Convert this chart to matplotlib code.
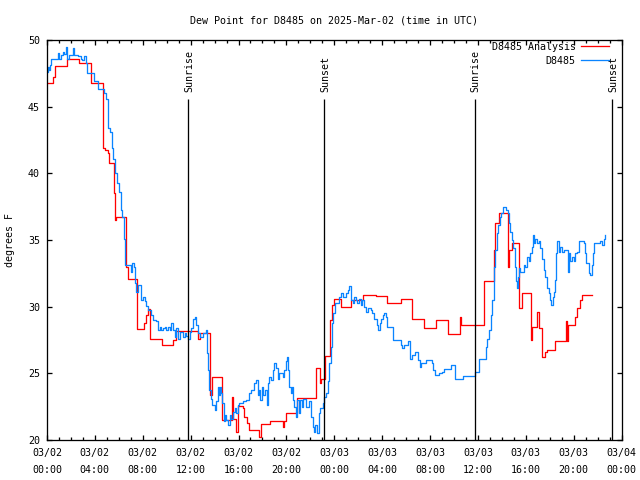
import matplotlib
matplotlib.use("Agg")
import matplotlib.pyplot as plt
from matplotlib.ticker import MultipleLocator, FixedLocator
from datetime import datetime, timedelta

# ------------------------- data -------------------------
# hours since 2025-03-02 00:00 UTC
analysis_hours = [0, 0.53, 0.67, 1.64, 2.67, 3.64, 4.64, 4.83, 5.06, 5.17, 5.61, 5.72, 5.8,
                  6.58, 6.78, 7.56, 8.11, 8.31, 8.44, 8.64, 9.64, 10.53, 10.75, 12.61, 12.75,
                  13.6, 13.75, 14.64, 15.47, 15.58, 15.75, 15.94, 16.36, 16.5, 16.69, 16.86,
                  17.75, 17.86, 18.67, 19.7, 19.78, 20.0, 20.9, 22.47, 22.8, 22.89, 23.25,
                  23.64, 23.8, 23.94, 24.56, 25.39, 26.44, 27.53, 28.44, 29.56, 30.47, 31.5,
                  32.47, 33.5, 34.5, 34.58, 36.47, 37.33, 37.47, 37.75, 38.53, 38.58, 38.86,
                  39.47, 39.69, 40.47, 40.53, 40.95, 41.1, 41.36, 41.58, 41.78, 42.42, 43.36,
                  43.42, 43.53, 44.14, 44.28, 44.56, 44.69, 45.53]
analysis_dewpt = [46.8, 47.2, 48.05, 48.55, 48.3, 46.8, 41.9, 41.75, 41.5, 40.75, 38.5, 36.5, 36.7,
                  33.0, 32.1, 28.3, 28.75, 29.4, 29.8, 27.6, 27.1, 27.5, 28.2, 27.6, 28.0,
                  23.4, 24.7, 21.5, 23.2, 21.6, 20.6, 22.55, 22.4, 21.7, 21.25, 20.75,
                  20.2, 21.2, 21.4, 20.95, 21.45, 22.05, 23.15, 25.4, 24.3, 24.6, 26.3,
                  29.0, 30.1, 30.6, 30.0, 30.5, 30.9, 30.8, 30.25, 30.55, 29.1, 28.4,
                  29.0, 27.95, 29.2, 28.6, 31.9, 34.25, 36.25, 37.0, 33.0, 34.25, 34.75,
                  29.9, 31.0, 27.5, 28.5, 29.6, 28.4, 26.25, 26.6, 26.75, 27.4, 28.9,
                  27.4, 28.6, 29.25, 29.9, 30.5, 30.9, 30.9]

station_hours = [0.0, 0.06, 0.17, 0.25, 0.33, 0.89, 1.0, 1.17, 1.31, 1.44, 1.56, 1.69, 1.83, 2.19,
                 2.28, 2.61, 2.8, 2.94, 3.08, 3.22, 3.36, 3.92, 4.28, 4.78, 4.92, 5.06, 5.11,
                 5.25, 5.39, 5.53, 5.67, 5.89, 6.0, 6.17, 6.28, 6.42, 6.5, 7.06, 7.14, 7.25,
                 7.36, 7.47, 7.61, 7.89, 8.03, 8.17, 8.31, 8.44, 8.72, 8.86, 9.08, 9.28, 9.42,
                 9.56, 9.69, 9.83, 9.97, 10.11, 10.25, 10.39, 10.53, 10.67, 10.81, 10.94, 11.08,
                 11.36, 11.5, 11.64, 11.78, 11.92, 12.06, 12.19, 12.33, 12.47, 12.61, 12.75,
                 13.03, 13.31, 13.36, 13.44, 13.53, 13.72, 13.81, 14.0, 14.14, 14.28, 14.36,
                 14.47, 14.56, 14.64, 14.75, 14.89, 14.97, 15.11, 15.25, 15.39, 15.53, 15.67,
                 15.81, 15.94, 16.08, 16.36, 16.64, 16.86, 17.06, 17.33, 17.47, 17.61, 17.75,
                 17.83, 17.97, 18.08, 18.22, 18.36, 18.5, 18.58, 18.72, 18.86, 19.0, 19.14,
                 19.28, 19.42, 19.69, 19.83, 19.97, 20.06, 20.14, 20.25, 20.39, 20.47, 20.58,
                 20.67, 20.81, 20.89, 21.03, 21.14, 21.31, 21.42, 21.64, 21.86, 22.06, 22.19,
                 22.28, 22.42, 22.53, 22.69, 22.83, 23.03, 23.17, 23.31, 23.44, 23.58, 23.72,
                 23.81, 23.92, 24.06, 24.42, 24.56, 24.69, 24.97, 25.11, 25.25, 25.39, 25.53,
                 25.67, 25.81, 25.94, 26.08, 26.22, 26.36, 26.5, 26.64, 26.78, 27.06, 27.19,
                 27.33, 27.61, 27.69, 27.81, 27.94, 28.08, 28.17, 28.31, 28.39, 28.92, 29.56,
                 29.69, 29.83, 30.17, 30.33, 30.47, 30.75, 31.03, 31.14, 31.22, 31.64, 32.19,
                 32.28, 32.42, 32.75, 33.03, 33.17, 33.72, 34.08, 34.75, 35.75, 36.08, 36.64,
                 36.78, 36.92, 37.06, 37.19, 37.33, 37.47, 37.61, 37.69, 37.81, 37.97, 38.11,
                 38.39, 38.53, 38.64, 38.72, 38.81, 38.92, 39.08, 39.19, 39.28, 39.36, 39.42,
                 39.56, 39.83, 39.97, 40.11, 40.25, 40.39, 40.53, 40.61, 40.72, 40.81, 40.94,
                 41.08, 41.22, 41.36, 41.5, 41.64, 41.78, 41.92, 42.06, 42.14, 42.25, 42.33,
                 42.42, 42.53, 42.61, 42.75, 42.89, 43.03, 43.17, 43.44, 43.53, 43.64, 43.72,
                 43.86, 44.0, 44.14, 44.28, 44.42, 44.83, 44.97, 45.03, 45.25, 45.39, 45.53,
                 45.61, 45.69, 46.22, 46.36, 46.5, 46.64]
station_dewpt = [47.6, 48.0, 47.75, 48.1, 48.6, 49.0, 48.55, 48.9, 49.1, 48.95, 49.45, 48.6, 48.9, 49.4,
                 48.9, 48.8, 48.6, 48.5, 48.8, 48.25, 47.5, 46.9, 46.3, 46.0, 45.6, 44.9, 43.4,
                 43.1, 41.9, 41.1, 40.0, 39.25, 38.6, 37.25, 36.7, 35.1, 33.1, 32.6, 33.25, 33.0,
                 31.75, 31.1, 31.6, 30.5, 30.75, 30.4, 30.05, 29.75, 29.4, 29.0, 28.9, 28.25, 28.5,
                 28.25, 28.4, 28.5, 28.25, 28.5, 28.25, 28.75, 28.25, 27.75, 28.4, 27.6, 28.1,
                 27.75, 28.0, 27.8, 27.6, 28.1, 28.4, 29.05, 29.2, 28.6, 28.0, 27.75,
                 28.0, 28.25, 26.5, 25.25, 23.75, 23.1, 22.6, 22.25, 22.9, 24.0, 23.4,
                 24.0, 23.5, 22.75, 21.4, 21.9, 21.5, 21.1, 21.9, 21.6, 22.1, 22.4,
                 22.0, 22.6, 22.75, 22.9, 23.0, 23.5, 23.75, 24.25, 24.5, 23.4, 23.75,
                 23.0, 24.0, 23.4, 23.75, 22.6, 24.25, 24.75, 24.5, 25.25, 25.75, 25.4,
                 24.6, 25.0, 24.75, 25.25, 25.9, 26.25, 25.25, 24.0, 23.5, 24.0, 23.0,
                 22.5, 21.75, 23.0, 22.0, 23.0, 22.5, 23.1, 22.5, 22.9, 21.75, 21.0,
                 20.6, 21.1, 20.5, 22.0, 22.4, 22.75, 23.25, 23.5, 24.4, 25.75, 27.0,
                 28.75, 29.5, 30.25, 30.75, 31.0, 30.75, 31.0, 31.25, 31.55, 30.5, 30.25,
                 30.75, 30.5, 30.25, 30.6, 30.1, 30.5, 30.0, 29.6, 29.9, 29.75, 29.5,
                 29.1, 28.6, 28.25, 28.75, 29.1, 29.4, 29.5, 29.25, 28.5, 27.5, 27.1,
                 26.9, 27.1, 27.4, 26.1, 26.4, 26.6, 26.0, 25.5, 25.8, 26.0, 25.75,
                 25.25, 24.9, 25.0, 25.1, 25.3, 25.6, 24.6, 24.8, 25.1, 26.05, 27.0,
                 27.6, 28.25, 29.4, 30.5, 33.0, 34.25, 35.5, 36.1, 36.75, 37.05, 37.45,
                 37.25, 37.05, 36.25, 35.6, 35.0, 34.4, 33.0, 31.9, 31.4, 32.25, 32.9,
                 32.6, 33.1, 33.0, 33.75, 33.4, 34.0, 34.5, 35.4, 34.75, 35.05, 34.75,
                 34.9, 34.4, 33.6, 32.75, 32.25, 31.4, 31.0, 30.5, 30.1, 30.75, 31.1,
                 32.0, 34.0, 34.9, 34.1, 34.5, 34.1, 34.25, 34.25, 32.6, 34.0, 33.4,
                 33.75, 33.4, 34.0, 34.1, 34.9, 34.75, 34.0, 33.25, 32.5, 32.4, 33.1,
                 34.0, 34.75, 34.95, 34.6, 35.1, 35.4]

sun_hours = [11.78, 23.13, 35.73, 47.2]
sun_labels = ["Sunrise", "Sunset", "Sunrise", "Sunset"]

tick_hours = list(range(0, 49, 4))
start = datetime(2025, 3, 2)
tick_labels = [(start + timedelta(hours=h)).strftime("%m/%d\n%H:%M") for h in tick_hours]

# ------------------------- plot -------------------------
mono = "DejaVu Sans Mono"
fs = 7.2
px = 0.72   # one pixel in points at 100 dpi

fig = plt.figure(figsize=(6.4, 4.8), dpi=100)
ax = fig.add_axes([47 / 640, 40 / 480, 574.5 / 640, 400 / 480])

ax.plot(analysis_hours, analysis_dewpt, drawstyle="steps-post", color="#ff0000",
        lw=1.3 * px, label="D8485 Analysis")
ax.plot(station_hours, station_dewpt, drawstyle="steps-post", color="#0a84ff",
        lw=1.3 * px, label="D8485")

for h, lab in zip(sun_hours, sun_labels):
    ax.vlines(h, 20, 45.6, color="black", lw=1.3 * px)
    ax.text(h + 0.1, 46.1, lab, rotation=90, ha="center", va="bottom",
            fontsize=fs, family=mono)

ax.set_xlim(0, 48)
ax.set_ylim(20, 50)
ax.xaxis.set_major_locator(FixedLocator(tick_hours))
ax.xaxis.set_minor_locator(MultipleLocator(1))
ax.set_xticklabels(tick_labels)
ax.yaxis.set_major_locator(MultipleLocator(5))

ax.tick_params(which="both", direction="in", top=True, right=True, labelsize=fs, width=1.3 * px)
ax.tick_params(which="major", length=3.6)
ax.tick_params(axis="x", which="major", pad=6)
ax.tick_params(axis="y", which="major", pad=5)
ax.tick_params(which="minor", length=2.2)
for lab in ax.get_xticklabels() + ax.get_yticklabels():
    lab.set_family(mono)
for lab in ax.get_xticklabels():
    lab.set_linespacing(1.8)
for s in ax.spines.values():
    s.set_linewidth(1.3 * px)

ax.set_title("Dew Point for D8485 on 2025-Mar-02 (time in UTC)", fontsize=fs, family=mono, pad=12)
ax.set_ylabel("degrees F", fontsize=fs, family=mono, va="center")
ax.yaxis.set_label_coords(-0.064, 0.5)

leg = ax.legend(loc="upper right", bbox_to_anchor=(0.978, 0.995), markerfirst=False,
                frameon=False, prop={"family": mono, "size": fs}, handlelength=2.8,
                handletextpad=0.5, labelspacing=0.4, borderpad=0, borderaxespad=0)

plt.savefig("out.png", dpi=100)
